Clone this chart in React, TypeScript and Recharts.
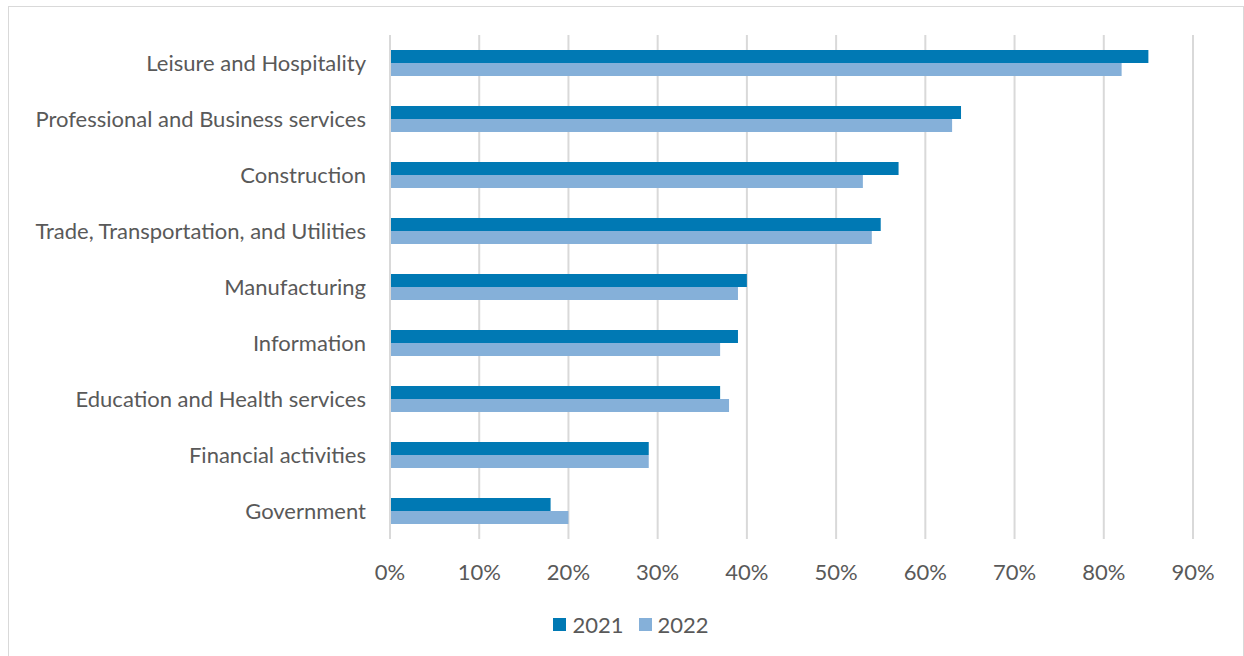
import React from 'react'
import {Bar, BarChart, CartesianGrid, Legend, XAxis, YAxis} from 'recharts';

const sectors = [
    'Leisure and Hospitality',
    'Professional and Business services',
    'Construction',
    'Trade, Transportation, and Utilities',
    'Manufacturing',
    'Information',
    'Education and Health services',
    'Financial activities',
    'Government',
];
const values2021 = [85, 64, 57, 55, 40, 39, 37, 29, 18];
const values2022 = [82, 63, 53, 54, 39, 37, 38, 29, 20];
const xTicks = [0, 10, 20, 30, 40, 50, 60, 70, 80, 90];
const seriesNames = ['2021', '2022'];
const seriesColors = ['#0079b4', '#85b0d9'];

const data = sectors.map((name, i) => ({name, y2021: values2021[i], y2022: values2022[i]}));

const font = 'Lato, "Open Sans", sans-serif';
const textColor = '#595959';
const gridColor = '#d9d9d9';

const LegendContent = () => (
    <div style={{
        height: 30,
        display: 'flex',
        alignItems: 'center',
        justifyContent: 'center',
        paddingLeft: 60,
        fontSize: 22,
        fontFamily: font,
        color: textColor,
    }}>
        {seriesNames.map((name, i) => (
            <span key={name} style={{display: 'flex', alignItems: 'center', marginRight: i === 0 ? 15 : 0}}>
                <span style={{width: 13, height: 13, background: seriesColors[i], marginRight: 6, display: 'inline-block'}}/>
                {name}
            </span>
        ))}
    </div>
);

export default function App() {
    return (
        <div style={{
            position: 'absolute',
            left: 8,
            top: 6,
            width: 1234,
            height: 660,
            border: `1px solid ${gridColor}`,
            background: '#fff',
            fontFamily: font,
        }}>
            <BarChart
                width={1234}
                height={650}
                data={data}
                layout="vertical"
                barGap={0}
                barSize={13}
                margin={{top: 28, right: 50, bottom: 18, left: 0}}>
                <CartesianGrid horizontal={false} stroke={gridColor} strokeWidth={2}/>
                <XAxis
                    type="number"
                    domain={[0, 90]}
                    ticks={xTicks}
                    tickFormatter={(v: number) => `${v}%`}
                    axisLine={false}
                    tickLine={false}
                    tickSize={0}
                    tickMargin={25}
                    height={70}
                    tick={{fill: textColor, fontSize: 22, fontFamily: font}}
                />
                <YAxis
                    type="category"
                    dataKey="name"
                    width={381}
                    axisLine={{stroke: gridColor, strokeWidth: 2}}
                    tickLine={false}
                    tickSize={0}
                    tickMargin={24}
                    interval={0}
                    tick={{fill: textColor, fontSize: 22, fontFamily: font}}
                />
                <Legend verticalAlign="bottom" content={<LegendContent/>}/>
                <Bar dataKey="y2021" name={seriesNames[0]} fill={seriesColors[0]} isAnimationActive={false}/>
                <Bar dataKey="y2022" name={seriesNames[1]} fill={seriesColors[1]} isAnimationActive={false}/>
            </BarChart>
        </div>
    )
}
